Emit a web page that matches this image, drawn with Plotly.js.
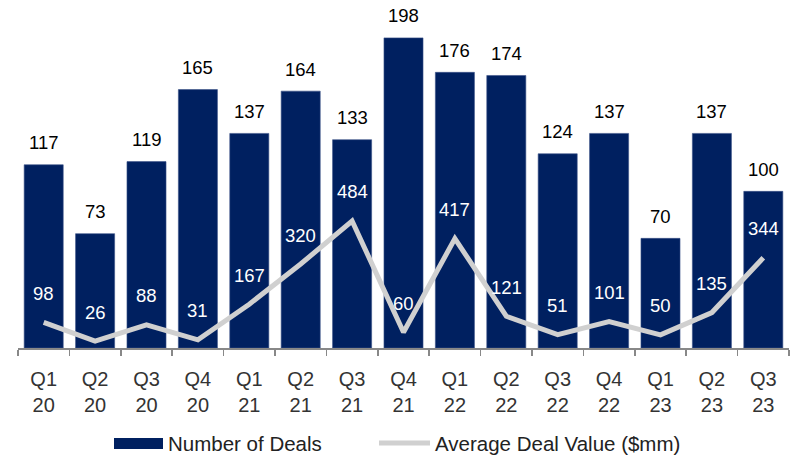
<!DOCTYPE html>
<html>
<head>
<meta charset="utf-8">
<script src="https://cdn.plot.ly/plotly-3.0.1.min.js"></script>
<style>html,body{margin:0;padding:0;background:#fff}#chart{width:792px;height:456px}</style>
</head>
<body>
<div id="chart"></div>
<script>
const categories = ["Q1<br>20","Q2<br>20","Q3<br>20","Q4<br>20","Q1<br>21","Q2<br>21","Q3<br>21","Q4<br>21","Q1<br>22","Q2<br>22","Q3<br>22","Q4<br>22","Q1<br>23","Q2<br>23","Q3<br>23"];
const numberOfDeals = [117,73,119,165,137,164,133,198,176,174,124,137,70,137,100];
const avgDealValue = [98,26,88,31,167,320,484,60,417,121,51,101,50,135,344];
const seriesNames = ["Number of Deals", "Average Deal Value ($mm)"];

const FONT = "Liberation Sans, Arial, sans-serif";
const NAVY = "#002060";
const GRAY = "#d0d0d0";

// plot area geometry (pixels)
const W = 792, H = 456, ML = 18, MR = 3, MT = 10, MB = 108;
const PW = W - ML - MR, PH = H - MT - MB;
const px = v => (v - ML) / PW;
const py = v => (H - MB - v) / PH;

const bars = {
  type: "bar", x: categories, y: numberOfDeals, name: seriesNames[0],
  marker: {color: NAVY, line: {color: "#3b5288", width: 0.6}},
  width: 0.76, hoverinfo: "none"
};
const line = {
  type: "scatter", mode: "lines", x: categories, y: avgDealValue, yaxis: "y2",
  name: seriesNames[1], line: {color: GRAY, width: 5}, hoverinfo: "none"
};

const annotations = [];
categories.forEach((c, i) => {
  annotations.push({x: c, y: numberOfDeals[i], xref: "x", yref: "y", text: String(numberOfDeals[i]),
    showarrow: false, yanchor: "middle", yshift: 22, font: {family: FONT, size: 18.5, color: "#000"}});
  annotations.push({x: c, y: avgDealValue[i], xref: "x", yref: "y2", text: String(avgDealValue[i]),
    showarrow: false, yanchor: "middle", yshift: 29, font: {family: FONT, size: 18.5, color: "#fff"}});
});
// custom legend text
annotations.push({xref: "paper", yref: "paper", x: px(166), y: py(443), xanchor: "left", yanchor: "middle",
  text: seriesNames[0], showarrow: false, font: {family: FONT, size: 20.5, color: "#222"}});
annotations.push({xref: "paper", yref: "paper", x: px(433), y: py(443), xanchor: "left", yanchor: "middle",
  text: seriesNames[1], showarrow: false, font: {family: FONT, size: 20.5, color: "#222"}});

const shapes = [
  {type: "rect", xref: "paper", yref: "paper", x0: px(114), x1: px(163), y0: py(449), y1: py(438),
    fillcolor: NAVY, line: {width: 0}},
  {type: "line", xref: "paper", yref: "paper", x0: px(379), x1: px(430), y0: py(443), y1: py(443),
    line: {color: GRAY, width: 5}}
];

const layout = {
  width: W, height: H,
  margin: {l: ML, r: MR, t: MT, b: MB},
  paper_bgcolor: "#fff", plot_bgcolor: "#fff",
  font: {family: FONT, size: 18, color: "#222"},
  showlegend: false,
  xaxis: {type: "category", tickson: "boundaries", ticks: "outside", ticklen: 6, tickcolor: "#888", tickwidth: 1.5,
    showline: true, linecolor: "#888", linewidth: 1.5, showgrid: false, zeroline: false,
    ticklabelstandoff: 12, automargin: false,
    tickfont: {family: FONT, size: 20, color: "#333"}, fixedrange: true},
  yaxis: {range: [0, 215.8], visible: false, showgrid: false, zeroline: false, fixedrange: true},
  yaxis2: {range: [0, 1288], overlaying: "y", side: "right", visible: false, showgrid: false, zeroline: false, fixedrange: true},
  annotations: annotations,
  shapes: shapes
};

Plotly.newPlot("chart", [bars, line], layout, {displayModeBar: false, staticPlot: true});
</script>
</body>
</html>
